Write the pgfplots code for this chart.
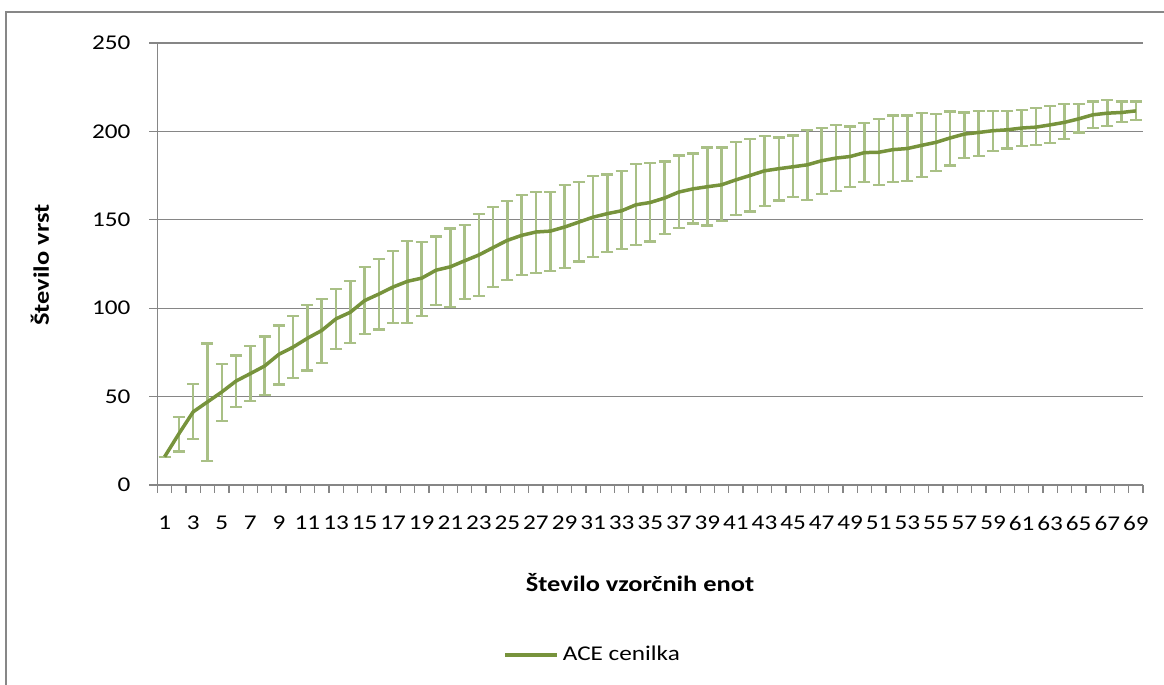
\documentclass[border=0pt]{standalone}
\usepackage{fontspec}
\setmainfont{Carlito}[FakeStretch=1.2]
\usepackage{pgfplots}
\usepackage{pgfplotstable}
\pgfplotsset{compat=1.18}
\definecolor{linegreen}{HTML}{77933C}
\definecolor{ebgreen}{HTML}{A9C086}
\definecolor{gridgray}{HTML}{868686}
\definecolor{bordergray}{HTML}{878787}
\pgfplotstableread{
x y lo hi
1 16 16 16
2 29 19 38.5
3 41.4 25.8 57
4 47 13.5 80
5 52.6 36.3 68.6
6 58.8 44.2 73.3
7 63 47.4 78.8
8 67.3 51.1 84
9 73.9 56.8 90.2
10 78 60.7 95.7
11 83 64.8 102
12 87.4 69 105.3
13 94 76.7 110.7
14 97.7 80.3 115.6
15 104.3 85.5 123.5
16 108 88 127.8
17 112 91.8 132.4
18 115.2 91.8 138
19 117 95.5 137.6
20 121.5 101.7 140.6
21 123.4 100.9 145.1
22 126.8 105.4 147
23 130.1 106.9 153.2
24 134.3 112 157.1
25 138.4 116.1 160.5
26 141.2 118.7 163.9
27 143.1 119.7 165.7
28 143.6 121.2 165.9
29 145.9 122.8 169.9
30 148.7 126.4 171.3
31 151.5 128.8 174.9
32 153.5 132 175.6
33 155.1 133.5 177.7
34 158.5 135.8 181.5
35 159.8 137.7 182.3
36 162.3 141.9 183
37 165.7 145.3 186.4
38 167.5 147.9 187.5
39 168.7 146.8 190.9
40 169.8 149.4 190.9
41 172.6 152.5 194
42 175.1 154.7 195.7
43 177.7 157.9 197.5
44 178.9 160.9 196.6
45 180 163 197.7
46 181.1 161.3 200.6
47 183.4 164.7 201.7
48 184.9 166.4 203.4
49 185.8 168.7 202.8
50 188 171.3 204.6
51 188.2 169.5 206.9
52 189.7 171.3 209
53 190.3 171.9 209
54 192.1 174.3 210.3
55 193.8 177.5 209.7
56 196.3 180.7 211.2
57 198.5 185 210.7
58 199.4 186 211.6
59 200.4 188.8 211.6
60 200.9 190.3 211.6
61 201.9 191.6 212.2
62 202.4 192.5 213.1
63 203.7 193.4 214.4
64 205.1 195.9 215.4
65 207.1 199.4 215.4
66 209.4 201.9 216.9
67 210.3 203.2 217.8
68 210.7 205.1 216.9
69 211.6 206.6 216.9
}\ace
\begin{document}
\begin{tikzpicture}[x=1pt,y=1pt]
\useasboundingbox (0,0) rectangle (582,342.5);
\draw[bordergray, line width=1pt] (3,-20) -- (3,336.5) -- (600,336.5);
\begin{axis}[
  at={(78.75pt,100pt)}, anchor=south west, scale only axis,
  width=492.75pt, height=221pt,
  xmin=0.5, xmax=69.5, ymin=0, ymax=250,
  axis lines*=left,
  axis line style={gridgray, line width=0.65pt},
  xtick={1,3,...,69},
  minor xtick={0.5,1.5,...,69.5},
  major x tick style={draw=none},
  ytick={0,50,...,250},
  ymajorgrids,
  grid style={gridgray, line width=0.65pt},
  tick align=outside,
  major tick length=4pt, minor tick length=4pt,
  tick style={gridgray, line width=0.65pt},
  ticklabel style={font=\fontsize{10.5}{12}\selectfont, text=black},
  /pgf/number format/assume math mode=true,
  xticklabel style={yshift=-8pt},
  yticklabel style={xshift=-6pt},
  clip=false,
  legend style={at={(axis description cs:0.3445,-0.385)}, anchor=west,
    draw=none, fill=none, font=\fontsize{10.5}{12}\selectfont},
  legend image code/.code={\draw[linegreen, line width=1.75pt] (0pt,0pt) -- (26pt,0pt);},
]
\addplot[draw=none, forget plot,
  error bars/.cd, y dir=both, y explicit,
  error bar style={draw=ebgreen, line width=1.25pt},
  error mark options={rotate=90, draw=ebgreen, line width=1.1pt, mark size=3pt}]
  table[x=x, y=y, y error plus expr=\thisrow{hi}-\thisrow{y}, y error minus expr=\thisrow{y}-\thisrow{lo}] {\ace};
\addplot[linegreen, line width=1.75pt, line join=round, mark=none]
  table[x=x, y=y] {\ace};
\addlegendentry{ACE cenilka}
\end{axis}
\node[rotate=90, font=\bfseries\fontsize{11}{13}\selectfont] at (20,210) {Število vrst};
\node[font=\bfseries\fontsize{11}{13}\selectfont] at (320,51) {Število vzorčnih enot};
\end{tikzpicture}
\end{document}
